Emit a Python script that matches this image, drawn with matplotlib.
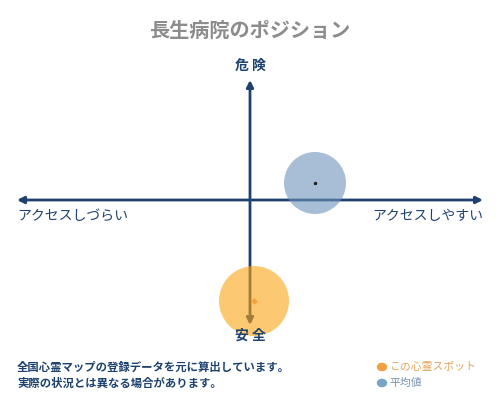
import matplotlib
matplotlib.use("Agg")
import matplotlib.pyplot as plt
from matplotlib.patches import Circle

plt.rcParams['font.family'] = ['Noto Sans CJK JP', 'DejaVu Sans']

# chart values (access score on x, danger score on y)
TITLE = "長生病院のポジション"
SERIES = ["この心霊スポット", "平均値"]
ACCESS = [4, 65]
DANGER = [-101, 17]
AXIS_TOP = "危 険"
AXIS_BOTTOM = "安 全"
AXIS_LEFT = "アクセスしづらい"
AXIS_RIGHT = "アクセスしやすい"
NOTES = ["全国心霊マップの登録データを元に算出しています。",
         "実際の状況とは異なる場合があります。"]

NAVY = "#1d426f"
FILL = ["#fca414", "#6e93bb"]
DOT = ["#f5a33a", "#222222"]
LEG_DOT = ["#f0a040", "#7aa3c8"]
LEG_TXT = ["#e3a45a", "#7893b0"]

fig = plt.figure(figsize=(5, 4), dpi=100)
ax = fig.add_axes([0, 0, 1, 1])
ax.set_xlim(-250, 250)
ax.set_ylim(-200, 200)
ax.axis('off')

# axes arrows
arr = dict(arrowstyle='<|-|>', color=NAVY, lw=2, mutation_scale=10, shrinkA=0, shrinkB=0)
ax.annotate('', xy=(-233, 0), xytext=(233, 0), arrowprops=arr)
ax.annotate('', xy=(0, 120), xytext=(0, -125), arrowprops=arr)

# bubbles, drawn over the axes with transparency
radius = [35, 31]
for i in range(len(SERIES)):
    ax.add_patch(Circle((ACCESS[i], DANGER[i]), radius[i], color=FILL[i], alpha=0.6, lw=0, zorder=3))
    ax.plot(ACCESS[i], DANGER[i], marker='D' if i == 0 else 'o', ms=2.5 if i == 0 else 1.5,
            color=DOT[i], zorder=4)

# labels
ax.text(0, 134, AXIS_TOP, ha='center', va='center', fontsize=10, fontweight='bold', color=NAVY)
ax.text(0, -136, AXIS_BOTTOM, ha='center', va='center', fontsize=10, fontweight='bold', color=NAVY)
ax.text(-233, -16, AXIS_LEFT, ha='left', va='center', fontsize=10, color=NAVY)
ax.text(233, -16, AXIS_RIGHT, ha='right', va='center', fontsize=10, color=NAVY)

fig.text(0.5, 1 - 30 / 400, TITLE, ha='center', va='center', fontsize=14.5, fontweight='bold', color='#8c8c8c')

for j, line in enumerate(NOTES):
    fig.text(17 / 500, 1 - (367 + 16 * j) / 400, line, ha='left', va='center',
             fontsize=8.2, fontweight='bold', color=NAVY)

for j, name in enumerate(SERIES):
    y = 1 - (367 + 16 * j) / 400
    fig.patches.append(Circle((382 / 500, y), 0.009, transform=fig.transFigure,
                              color=LEG_DOT[j], figure=fig))
    fig.text(389 / 500, y, name, ha='left', va='center', fontsize=7.8, color=LEG_TXT[j])

fig.savefig("out.png", dpi=100)
